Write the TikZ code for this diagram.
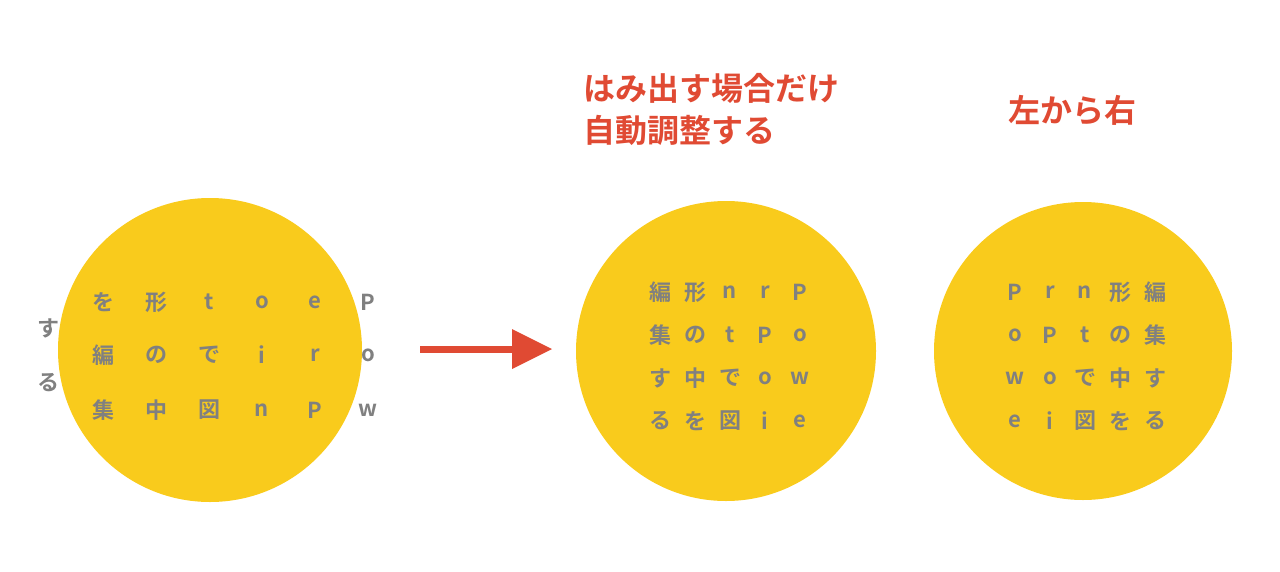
\documentclass[tikz,border=0pt]{standalone}
\usepackage{fontspec}
\newfontfamily\jp{Noto Sans CJK JP Bold}
\definecolor{yel}{HTML}{F9CB1C}
\definecolor{gry}{HTML}{808080}
\definecolor{rd}{HTML}{E04A33}
\begin{document}
\begin{tikzpicture}[x=1pt,y=-1pt,
  ch/.style={font=\jp\fontsize{22}{22}\selectfont,text=gry,inner sep=0pt},
  ttl/.style={font=\jp\fontsize{32}{42}\selectfont,text=rd,inner sep=0pt,align=left,anchor=west}]
\useasboundingbox (0,0) rectangle (1280,571);
\fill[yel] (210,350) circle (152);
\fill[yel] (726,351) circle (150);
\fill[yel] (1083,351) circle (149);
% left grid
\foreach \c [count=\i] in {を,形,t,o,e,P}{\node[ch] (La\i) at ({103+53*(\i-1)},302) {\c};}
\foreach \c [count=\i] in {編,の,で,i,r,o}{\node[ch] (Lb\i) at ({103+53*(\i-1)},355) {\c};}
\foreach \c [count=\i] in {集,中,図,n,P,w}{\node[ch] (Lc\i) at ({103+53*(\i-1)},410) {\c};}
\node[ch] (Ls) at (48,328) {す};
\node[ch] (Lr) at (48,383) {る};
% middle grid
\foreach \r/\y [count=\j] in {{編,形,n,r,P}/292,{集,の,t,P,o}/335,{す,中,で,o,w}/378,{る,を,図,i,e}/421}{
  \foreach \c [count=\i] in \r {\node[ch] (M\j-\i) at ({660+35*(\i-1)},\y) {\c};}}
% right grid
\foreach \r/\y [count=\j] in {{P,r,n,形,編}/292,{o,P,t,の,集}/335,{w,o,で,中,す}/378,{e,i,図,を,る}/421}{
  \foreach \c [count=\i] in \r {\node[ch] (R\j-\i) at ({1015+35*(\i-1)},\y) {\c};}}
% titles
\node[ttl] (t1) at (583,109) {はみ出す場合だけ\\自動調整する};
\node[ttl] (t2) at (1008,110) {左から右};
% arrow
\coordinate (a1) at (420,349);
\coordinate (a2) at (512,349);
\coordinate (a3) at (552,349);
\draw[rd,line width=7pt] (a1) -- (a2);
\fill[rd] (512,329) -- (a3) -- (512,369) -- cycle;
\end{tikzpicture}
\end{document}
